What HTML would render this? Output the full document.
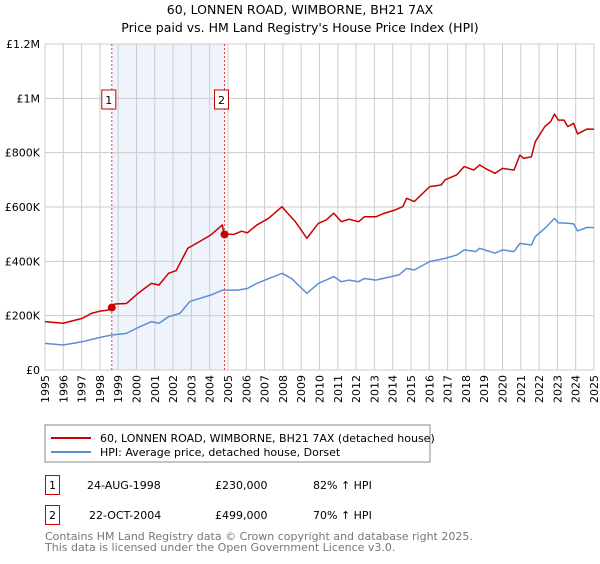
<!DOCTYPE html>
<html><head><meta charset="utf-8"><style>
body{margin:0;background:#fff;font-family:"DejaVu Sans","Liberation Sans",sans-serif;}
svg text{font-family:"DejaVu Sans","Liberation Sans",sans-serif;}
</style></head><body>
<svg id="c" width="600" height="560" xmlns="http://www.w3.org/2000/svg">
<text x="300" y="14" text-anchor="middle" font-size="12.5">60, LONNEN ROAD, WIMBORNE, BH21 7AX</text>
<text x="300" y="32" text-anchor="middle" font-size="12.5">Price paid vs. HM Land Registry's House Price Index (HPI)</text>
<g id="plot"></g>
<rect x="45" y="425" width="385" height="37" fill="#fff" stroke="#888"/>
<line x1="51" y1="438" x2="91" y2="438" stroke="#cc0000" stroke-width="2"/>
<text x="100" y="442" font-size="11">60, LONNEN ROAD, WIMBORNE, BH21 7AX (detached house)</text>
<line x1="51" y1="452" x2="91" y2="452" stroke="#5b8fd4" stroke-width="2"/>
<text x="100" y="456" font-size="11">HPI: Average price, detached house, Dorset</text>
<rect x="45.5" y="475.5" width="14" height="19" fill="none" stroke="#cc0000"/>
<text x="52.5" y="489" text-anchor="middle" font-size="11">1</text>
<text x="87" y="489" font-size="11">24-AUG-1998</text>
<text x="215" y="489" font-size="11">£230,000</text>
<text x="313" y="489" font-size="11">82% ↑ HPI</text>
<rect x="45.5" y="505.5" width="14" height="19" fill="none" stroke="#cc0000"/>
<text x="52.5" y="519" text-anchor="middle" font-size="11">2</text>
<text x="89" y="519" font-size="11">22-OCT-2004</text>
<text x="215" y="519" font-size="11">£499,000</text>
<text x="313" y="519" font-size="11">70% ↑ HPI</text>
<text x="45" y="540" font-size="11" fill="#777">Contains HM Land Registry data © Crown copyright and database right 2025.</text>
<text x="45" y="551" font-size="11" fill="#777">This data is licensed under the Open Government Licence v3.0.</text>
</svg>
<script>
const redYears=[1995.0,1995.99,1997.03,1997.56,1998.02,1998.40,1998.65,1998.82,1999.45,2000.08,2000.81,2001.23,2001.75,2002.17,2002.80,2003.43,2004.06,2004.59,2004.69,2004.78,2005.32,2005.74,2006.06,2006.58,2007.21,2007.95,2008.26,2008.68,2009.31,2009.94,2010.36,2010.78,2011.19,2011.61,2012.14,2012.45,2013.08,2013.50,2014.13,2014.55,2014.76,2015.18,2016.02,2016.65,2016.86,2017.49,2017.91,2018.43,2018.75,2019.06,2019.59,2020.00,2020.63,2020.95,2021.16,2021.58,2021.79,2022.31,2022.63,2022.84,2023.05,2023.36,2023.57,2023.89,2024.10,2024.62,2025.0];
const redValues=[178,172,190,209,217,220,230,243,245,282,319,313,356,366,448,472,497,528,534,501,499,511,505,534,558,601,577,546,485,540,552,577,546,555,546,564,564,576,589,601,632,620,675,681,700,718,749,736,755,742,724,742,736,791,779,785,840,896,914,942,920,920,896,908,869,887,886];
const hpiYears=[1995.0,1995.99,1997.03,1998.02,1998.65,1999.45,2000.08,2000.81,2001.23,2001.75,2002.38,2002.91,2004.06,2004.69,2005.53,2006.06,2006.58,2007.95,2008.47,2009.31,2009.94,2010.36,2010.78,2011.19,2011.61,2012.14,2012.45,2013.08,2014.34,2014.76,2015.18,2016.02,2016.86,2017.49,2017.91,2018.54,2018.75,2019.59,2020.00,2020.63,2020.95,2021.58,2021.79,2022.31,2022.84,2023.05,2023.57,2023.89,2024.10,2024.62,2025.0];
const hpiValues=[98,92,104,120,129,135,156,178,172,196,209,252,276,294,294,300,319,356,337,282,319,331,344,325,331,325,337,331,350,374,368,399,411,423,442,436,448,430,442,436,466,460,491,521,558,542,540,538,512,525,524];
const saleYears=[1998.65,2004.81];
const saleValues=[230,499];
const saleLabels=["1","2"];
const yTicks=[0,200,400,600,800,1000,1200];
const yTickLabels=["£0","£200K","£400K","£600K","£800K","£1M","£1.2M"];
const xTicks=[];for(let y=1995;y<=2025;y++)xTicks.push(y);

const L=45,R=594,T=44,B=370;
const xs=y=>L+(y-1995)/30*(R-L);
const ys=v=>B-v/1200*(B-T);
const NS="http://www.w3.org/2000/svg";
const g=document.getElementById('plot');
function mk(t,a,p){const e=document.createElementNS(NS,t);for(const k in a)e.setAttribute(k,a[k]);(p||g).appendChild(e);return e;}
let e=mk('rect',{x:xs(saleYears[0]),y:T,width:xs(saleYears[1])-xs(saleYears[0]),height:B-T,fill:'#eef3fc'});


xTicks.forEach(y=>{
 let l=mk('line',{x1:xs(y),x2:xs(y),y1:T,y2:B,stroke:'#cccccc','stroke-width':1});
 
 
 let t=mk('text',{x:0,y:0,'font-size':11,'text-anchor':'end',transform:`translate(${xs(y)+4},${B+5}) rotate(-90)`});
 t.textContent=y;
 
 
});
yTicks.forEach((v,i)=>{
 let l=mk('line',{x1:L,x2:R,y1:ys(v),y2:ys(v),stroke:'#cccccc','stroke-width':1});
 
 
 let t=mk('text',{x:L-5,y:ys(v)+4,'font-size':11,'text-anchor':'end'});
 t.textContent=yTickLabels[i];
 
 
});
saleYears.forEach((y,i)=>{
 let l=mk('line',{x1:xs(y),x2:xs(y),y1:T,y2:B,stroke:'#e04040','stroke-width':1,'stroke-dasharray':'2,2'});
 
 
 let r=mk('rect',{x:xs(y)-10,y:90,width:14,height:19,fill:'#fff',stroke:'#cc0000'});
 
 
 let t=mk('text',{x:xs(y)-3,y:104,'font-size':11,'text-anchor':'middle'});
 t.textContent=saleLabels[i];
 
 
});
function line(X,V,c,n){
 let p=mk('polyline',{points:X.map((y,i)=>xs(y)+','+ys(V[i])).join(' '),fill:'none',stroke:c,'stroke-width':1.5,'stroke-linejoin':'round'});
 
 
}
line(hpiYears,hpiValues,'#5b8fd4','hpi-line');
line(redYears,redValues,'#cc0000','property-line');
saleYears.forEach((y,i)=>{
 let c=mk('circle',{cx:xs(y),cy:ys(saleValues[i]),r:4,fill:'#cc0000'});
 
 
});
</script>
</body></html>
